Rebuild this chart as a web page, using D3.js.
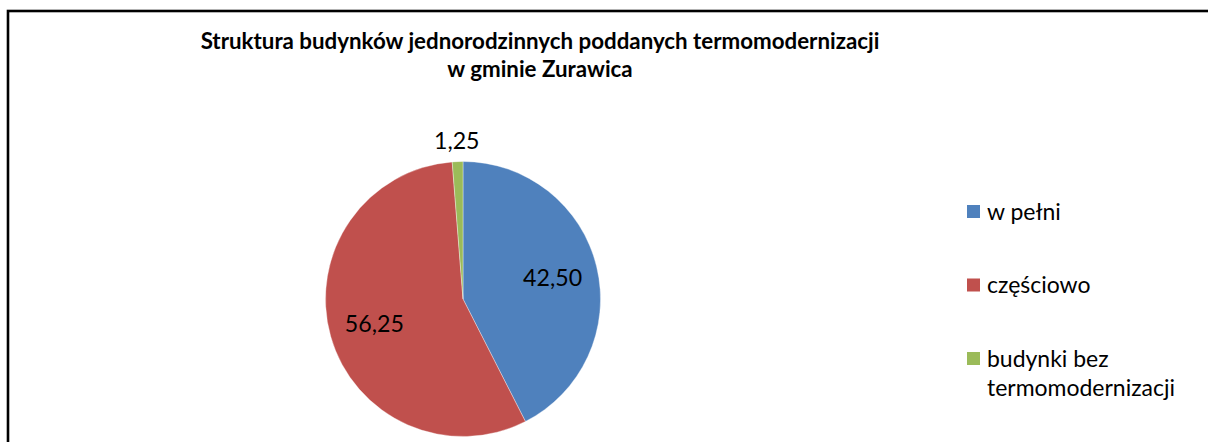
<!DOCTYPE html>
<html>
<head>
<meta charset="utf-8">
<script src="https://cdn.jsdelivr.net/npm/d3@7"></script>
<style>
  html, body { margin: 0; padding: 0; background: #fff; }
  svg { display: block; font-family: Lato, "Open Sans", sans-serif; }
</style>
</head>
<body>
<div id="Chart"></div>
<script>
const titleLines = ["Struktura budynków jednorodzinnych poddanych termomodernizacji", "w gminie Zurawica"];
const categories = ["w pełni", "częściowo", "budynki bez termomodernizacji"];
const legendLines = [["w pełni"], ["częściowo"], ["budynki bez", "termomodernizacji"]];
const values = [42.50, 56.25, 1.25];
const colors = ["#4F81BD", "#C0504D", "#9BBB59"];

const W = 1208, H = 442;
const pie = {cx: 463, cy: 299, r: 137.5};

const svg = d3.select("#Chart").append("svg")
  .attr("width", W).attr("height", H);

// outer frame (cut off at right and bottom like the screenshot)
svg.append("rect")
  .attr("x", 8).attr("y", 11)
  .attr("width", W + 20).attr("height", H + 20)
  .attr("fill", "none").attr("stroke", "#000").attr("stroke-width", 2.6);

// fit a text element to a wanted width by changing its font size
function fitWidth(sel, width) {
  const node = sel.node();
  const fs = parseFloat(sel.attr("font-size"));
  const w = node.getComputedTextLength();
  sel.attr("font-size", (fs * width / w).toFixed(2));
}

const title = svg.append("g").attr("class", "title");
title.selectAll("text").data(titleLines).join("text")
  .attr("x", 540)
  .attr("y", (d, i) => 49 + i * 28)
  .attr("text-anchor", "middle")
  .attr("font-weight", "bold")
  .attr("font-size", 19)
  .attr("fill", "#000")
  .text(d => d);
fitWidth(title.select("text"), 679);
title.selectAll("text").attr("font-size", title.select("text").attr("font-size"));

const arcs = d3.pie().sort(null).value(d => d)(values);
const arc = d3.arc().innerRadius(0).outerRadius(pie.r);
const inLabel = d3.arc().innerRadius(pie.r * 0.67).outerRadius(pie.r * 0.67);
const outLabel = d3.arc().innerRadius(pie.r + 21).outerRadius(pie.r + 21);

const g = svg.append("g").attr("transform", `translate(${pie.cx} ${pie.cy})`);
g.selectAll("path").data(arcs).join("path")
  .attr("d", arc)
  .attr("fill", (d, i) => colors[i])
  .attr("stroke", "#fff")
  .attr("stroke-width", 0.6)
  .attr("stroke-opacity", 0.6);

const fmt = v => d3.format(".2f")(v).replace(".", ",");
const labels = g.selectAll("text.value").data(arcs).join("text")
  .attr("class", "value")
  .attr("transform", d => {
    const p = (d.data < 5 ? outLabel : inLabel).centroid(d);
    return `translate(${p[0]} ${p[1]})`;
  })
  .attr("text-anchor", "middle")
  .attr("dy", "0.35em")
  .attr("font-size", 24)
  .attr("fill", "#000")
  .text(d => fmt(d.data));
const lab0 = labels.filter((d, i) => i === 0);
fitWidth(lab0, 59);
labels.attr("font-size", lab0.attr("font-size"));

// legend
const ly = d3.scalePoint().domain(categories).range([211.5, 358.5]);
const leg = svg.append("g").attr("class", "legend");
const item = leg.selectAll("g").data(categories).join("g")
  .attr("transform", d => `translate(967 ${ly(d)})`);
item.append("rect")
  .attr("x", 0).attr("y", -6.5)
  .attr("width", 13).attr("height", 13)
  .attr("fill", (d, i) => colors[i]);
const ltext = item.append("text")
  .attr("x", 20)
  .attr("font-size", 20)
  .attr("fill", "#000");
ltext.selectAll("tspan").data((d, i) => legendLines[i]).join("tspan")
  .attr("x", 20)
  .attr("y", (d, i) => 8 + i * 29)
  .text(d => d);
const longest = ltext.filter((d, i) => i === 2).selectAll("tspan").filter((d, i) => i === 1);
const lw = longest.node().getComputedTextLength();
ltext.attr("font-size", (20 * 188 / lw).toFixed(2));
</script>
</body>
</html>
